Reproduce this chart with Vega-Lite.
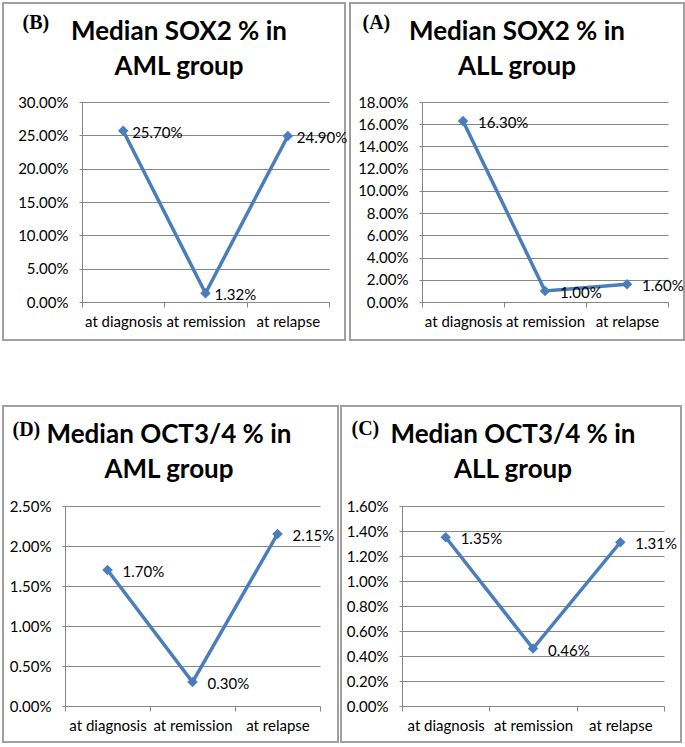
{
  "$schema": "https://vega.github.io/schema/vega-lite/v6.json",
  "padding": {"left": 2, "top": 2, "right": 0, "bottom": 0},
  "background": "white",
  "datasets": {
    "sox2_aml": [
      {"stage": "at diagnosis", "value": 0.257},
      {"stage": "at remission", "value": 0.0132},
      {"stage": "at relapse", "value": 0.249}
    ],
    "sox2_all": [
      {"stage": "at diagnosis", "value": 0.163},
      {"stage": "at remission", "value": 0.010},
      {"stage": "at relapse", "value": 0.016}
    ],
    "oct_aml": [
      {"stage": "at diagnosis", "value": 0.017},
      {"stage": "at remission", "value": 0.003},
      {"stage": "at relapse", "value": 0.0215}
    ],
    "oct_all": [
      {"stage": "at diagnosis", "value": 0.0135},
      {"stage": "at remission", "value": 0.0046},
      {"stage": "at relapse", "value": 0.0131}
    ]
  },
  "vconcat": [
    {
      "hconcat": [
        {
          "width": 342, "height": 337,
          "data": {"name": "sox2_aml"},
          "title": {"text": ["Median SOX2 % in", "AML group"], "dx": 5},
          "encoding": {
            "x": {"field": "stage", "type": "nominal", "sort": ["at diagnosis", "at remission", "at relapse"],
                  "scale": {"type": "band", "range": [79, 326], "paddingInner": 0, "paddingOuter": 0},
                  "axis": {"offset": -38}},
            "y": {"field": "value", "type": "quantitative",
                  "scale": {"domain": [0, 0.30], "range": [299, 99], "nice": false},
                  "axis": {"offset": -79, "values": [0, 0.05, 0.10, 0.15, 0.20, 0.25, 0.30], "title": "(B)", "titleX": -60, "titleY": 19.5}}
          },
          "layer": [
            {"mark": {"type": "line", "color": "#4A7EBB", "strokeWidth": 3.5}},
            {"mark": {"type": "point", "shape": "diamond", "filled": true, "size": 110, "color": "#4A7EBB", "opacity": 1}},
            {"mark": {"type": "text", "align": "left", "baseline": "middle", "dx": 9, "dy": 2, "font": "Lato", "fontSize": 15, "color": "#000000"},
             "encoding": {"text": {"field": "value", "type": "quantitative", "format": ".2%"}}}
          ]
        },
        {
          "width": 334, "height": 337,
          "data": {"name": "sox2_all"},
          "title": {"text": ["Median SOX2 % in", "ALL group"], "dx": 0},
          "encoding": {
            "x": {"field": "stage", "type": "nominal", "sort": ["at diagnosis", "at remission", "at relapse"],
                  "scale": {"type": "band", "range": [72, 318], "paddingInner": 0, "paddingOuter": 0},
                  "axis": {"offset": -38}},
            "y": {"field": "value", "type": "quantitative",
                  "scale": {"domain": [0, 0.18], "range": [299, 99], "nice": false},
                  "axis": {"offset": -72, "values": [0, 0.02, 0.04, 0.06, 0.08, 0.10, 0.12, 0.14, 0.16, 0.18], "title": "(A)", "titleX": -60, "titleY": 19.5}}
          },
          "layer": [
            {"mark": {"type": "line", "color": "#4A7EBB", "strokeWidth": 3.5}},
            {"mark": {"type": "point", "shape": "diamond", "filled": true, "size": 110, "color": "#4A7EBB", "opacity": 1}},
            {"mark": {"type": "text", "align": "left", "baseline": "middle", "dx": 15, "dy": 2, "font": "Lato", "fontSize": 15, "color": "#000000"},
             "encoding": {"text": {"field": "value", "type": "quantitative", "format": ".2%"}}}
          ]
        }
      ],
      "spacing": 0
    },
    {
      "hconcat": [
        {
          "width": 335, "height": 336,
          "data": {"name": "oct_aml"},
          "title": {"text": ["Median OCT3/4 % in", "AML group"], "dx": -1.5},
          "encoding": {
            "x": {"field": "stage", "type": "nominal", "sort": ["at diagnosis", "at remission", "at relapse"],
                  "scale": {"type": "band", "range": [62, 317], "paddingInner": 0, "paddingOuter": 0},
                  "axis": {"offset": -36}},
            "y": {"field": "value", "type": "quantitative",
                  "scale": {"domain": [0, 0.025], "range": [300, 100], "nice": false},
                  "axis": {"offset": -62, "values": [0, 0.005, 0.010, 0.015, 0.020, 0.025], "title": "(D)", "titleX": -53, "titleY": 23}}
          },
          "layer": [
            {"mark": {"type": "line", "color": "#4A7EBB", "strokeWidth": 3.5}},
            {"mark": {"type": "point", "shape": "diamond", "filled": true, "size": 110, "color": "#4A7EBB", "opacity": 1}},
            {"mark": {"type": "text", "align": "left", "baseline": "middle", "dx": 15, "dy": 2, "font": "Lato", "fontSize": 15, "color": "#000000"},
             "encoding": {"text": {"field": "value", "type": "quantitative", "format": ".2%"}}}
          ]
        },
        {
          "width": 340, "height": 336,
          "data": {"name": "oct_all"},
          "title": {"text": ["Median OCT3/4 % in", "ALL group"], "dx": 2},
          "encoding": {
            "x": {"field": "stage", "type": "nominal", "sort": ["at diagnosis", "at remission", "at relapse"],
                  "scale": {"type": "band", "range": [61, 323], "paddingInner": 0, "paddingOuter": 0},
                  "axis": {"offset": -36}},
            "y": {"field": "value", "type": "quantitative",
                  "scale": {"domain": [0, 0.016], "range": [300, 100], "nice": false},
                  "axis": {"offset": -61, "values": [0, 0.002, 0.004, 0.006, 0.008, 0.010, 0.012, 0.014, 0.016], "title": "(C)", "titleX": -51, "titleY": 22}}
          },
          "layer": [
            {"mark": {"type": "line", "color": "#4A7EBB", "strokeWidth": 3.5}},
            {"mark": {"type": "point", "shape": "diamond", "filled": true, "size": 110, "color": "#4A7EBB", "opacity": 1}},
            {"mark": {"type": "text", "align": "left", "baseline": "middle", "dx": 15, "dy": 2, "font": "Lato", "fontSize": 15, "color": "#000000"},
             "encoding": {"text": {"field": "value", "type": "quantitative", "format": ".2%"}}}
          ]
        }
      ],
      "spacing": 1
    }
  ],
  "spacing": 64,
  "config": {
    "view": {"stroke": "#a0a0a0", "strokeWidth": 2},
    "title": {"font": "Lato", "fontSize": 26, "fontWeight": "bold", "color": "#000000", "lineHeight": 35, "anchor": "middle", "frame": "group", "offset": -77},
    "axis": {"domainColor": "#868686", "tickColor": "#868686", "gridColor": "#868686", "gridOpacity": 1, "labelFont": "Lato", "labelFontSize": 15, "labelColor": "#000000", "domainWidth": 1, "gridWidth": 1, "tickWidth": 1},
    "axisX": {"grid": false, "tickBand": "extent", "tickSize": 5, "labelPadding": 7, "labelAngle": 0, "labelOverlap": false, "labelLimit": 0, "title": null},
    "axisY": {"grid": true, "tickSize": 3, "labelPadding": 11, "format": ".2%", "titleAngle": 0, "titleAlign": "left", "titleBaseline": "middle", "titleFont": "Liberation Serif", "titleFontSize": 20, "titleFontWeight": "bold", "titleColor": "#000000"}
  }
}
